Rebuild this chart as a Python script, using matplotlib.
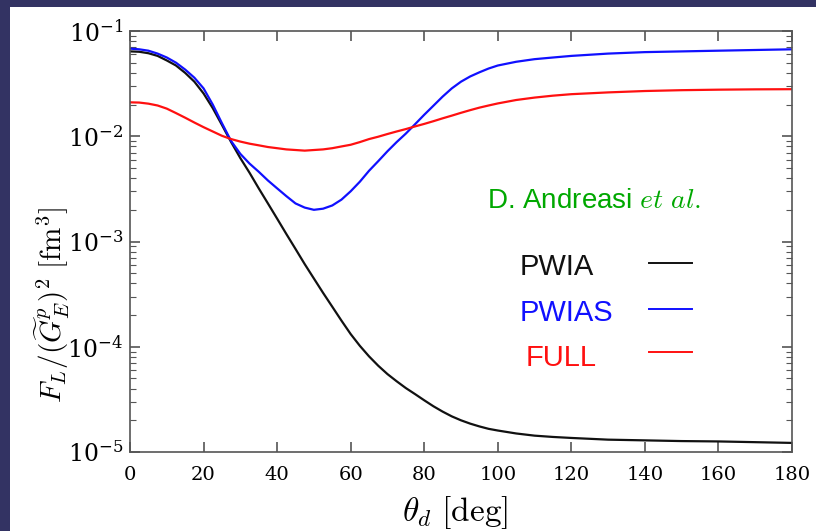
import numpy as np
import matplotlib
matplotlib.use('Agg')
import matplotlib.pyplot as plt
from matplotlib.patches import Rectangle

# angles (deg) and longitudinal response curves
theta = [0, 2.5, 5, 7.5, 10, 12.5, 15, 17.5, 20, 22.5, 25, 27.5, 30, 32.5, 35,
         37.5, 40, 42.5, 45, 47.5, 50, 52.5, 55, 57.5, 60, 62.5, 65, 67.5, 70,
         72.5, 75, 77.5, 80, 82.5, 85, 87.5, 90, 92.5, 95, 97.5, 100, 105, 110,
         115, 120, 130, 140, 150, 160, 170, 180]

pwia = [0.064, 0.0635, 0.0615, 0.058, 0.0525, 0.047, 0.040, 0.033, 0.0255,
        0.0185, 0.0128, 0.0088, 0.0062, 0.0045, 0.0032, 0.0023, 0.00165,
        0.00118, 8.5e-4, 6.1e-4, 4.45e-4, 3.25e-4, 2.4e-4, 1.77e-4, 1.32e-4,
        1.02e-4, 8.1e-5, 6.6e-5, 5.5e-5, 4.7e-5, 4.05e-5, 3.55e-5, 3.1e-5,
        2.72e-5, 2.42e-5, 2.18e-5, 2.0e-5, 1.86e-5, 1.75e-5, 1.66e-5, 1.6e-5,
        1.5e-5, 1.43e-5, 1.39e-5, 1.36e-5, 1.31e-5, 1.29e-5, 1.27e-5, 1.26e-5,
        1.24e-5, 1.22e-5]

pwias = [0.068, 0.067, 0.065, 0.061, 0.056, 0.050, 0.043, 0.036, 0.0285,
         0.0200, 0.0133, 0.0090, 0.0068, 0.0055, 0.0046, 0.0038, 0.0032,
         0.0027, 0.0023, 0.0021, 0.0020, 0.00205, 0.0022, 0.0025, 0.0030,
         0.0037, 0.0047, 0.0058, 0.0072, 0.0088, 0.0106, 0.0130, 0.0160,
         0.0195, 0.0238, 0.0285, 0.033, 0.037, 0.0405, 0.044, 0.047, 0.051,
         0.054, 0.056, 0.058, 0.061, 0.063, 0.064, 0.065, 0.066, 0.067]

full = [0.021, 0.0209, 0.0204, 0.0196, 0.0183, 0.0166, 0.0150, 0.0135, 0.0122,
        0.0111, 0.0101, 0.0094, 0.0089, 0.0085, 0.0082, 0.0079, 0.0077,
        0.0075, 0.0074, 0.0073, 0.0074, 0.0075, 0.0077, 0.0080, 0.0083,
        0.0088, 0.0094, 0.0099, 0.0105, 0.0111, 0.0117, 0.0124, 0.0131,
        0.0139, 0.0148, 0.0157, 0.0167, 0.0177, 0.0187, 0.0196, 0.0205,
        0.0221, 0.0233, 0.0243, 0.0251, 0.0261, 0.0269, 0.0274, 0.0277,
        0.0279, 0.0280]

labels = ['PWIA', 'PWIAS', 'FULL']
colors = ['#111111', '#1010ff', '#ff1010']

plt.rcParams['mathtext.fontset'] = 'cm'
plt.rcParams['font.family'] = 'DejaVu Serif'

fig = plt.figure(figsize=(8.16, 5.31), dpi=100, facecolor='#333363')
# fond blanc (bandeau sombre en haut et à gauche)
fig.patches.append(Rectangle((10 / 816, 0), 1, 1 - 7 / 531, transform=fig.transFigure,
                             facecolor='white', edgecolor='none', zorder=-1))

ax = fig.add_axes([130 / 816, 79 / 531, 662 / 816, 421 / 531])

for y, c in zip([pwia, pwias, full], colors):
    ax.plot(theta, y, '-', color=c, lw=1.6)

ax.set_yscale('log')
ax.set_xlim(0, 180)
ax.set_ylim(1e-5, 1e-1)
ax.set_xticks(np.arange(0, 181, 20))

for s in ax.spines.values():
    s.set_color('#555555')
    s.set_linewidth(1.2)
ax.tick_params(which='both', direction='in', top=True, right=True, colors='#555555',
               labelcolor='black')
ax.tick_params(which='major', length=7, width=1.2)
ax.tick_params(which='minor', length=4, width=0.8)
ax.tick_params(axis='x', pad=10, labelsize=14)
ax.tick_params(axis='y', pad=5, labelsize=17)

ax.set_xlabel(r'$\theta_d\ [\mathrm{deg}]$', fontsize=24)
ax.xaxis.set_label_coords(0.491, -0.100)
ax.set_ylabel(r'$F_L/(\widetilde{G}_E^p)^2\ [\mathrm{fm}^3]$', fontsize=21)
ax.yaxis.set_label_coords(-0.088, 0.35)

# annotations
ax.text(0.539, 0.597, r'D. Andreasi $et\ al.$', transform=ax.transAxes, color='#00a800',
        fontsize=20, family='Liberation Sans', va='center', ha='left')

text_x = [0.589, 0.589, 0.597]
text_y = [0.439, 0.330, 0.223]
line_y = [0.449, 0.340, 0.2375]
for lab, c, tx, ty, ly in zip(labels, colors, text_x, text_y, line_y):
    ax.text(tx, ty, lab, transform=ax.transAxes, color=c, fontsize=21,
            family='Liberation Sans', va='center', ha='left')
    ax.plot([0.784, 0.849], [ly, ly], transform=ax.transAxes, color=c, lw=1.4)

fig.savefig('out.png', dpi=100, facecolor=fig.get_facecolor())
